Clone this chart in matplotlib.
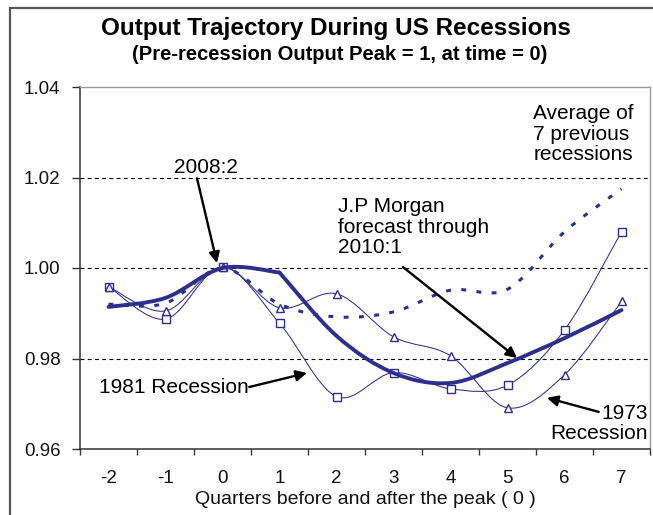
import matplotlib
matplotlib.use("Agg")
import matplotlib.pyplot as plt
from matplotlib.path import Path
from matplotlib.patches import PathPatch, Rectangle
import numpy as np

plt.rcParams['font.family'] = ['Liberation Sans', 'DejaVu Sans']

quarters = [-2, -1, 0, 1, 2, 3, 4, 5, 6, 7]
# 2008 recession: actual data through quarter 1, J.P. Morgan forecast after
actual_q = [-2, -1, 0, 1]
actual_2008 = [0.9914, 0.9934, 1.000, 0.999]
forecast_q = [1, 2, 3, 4, 5, 6, 7]
forecast_2008 = [0.999, 0.985, 0.9768, 0.9746, 0.979, 0.9845, 0.9907]
average7 = [0.992, 0.9922, 1.000, 0.992, 0.9892, 0.9903, 0.9951, 0.9953, 1.008, 1.0175]
rec1981 = [0.9959, 0.9887, 1.0002, 0.9878, 0.9716, 0.9769, 0.9733, 0.9741, 0.9863, 1.008]
rec1973 = [0.9959, 0.9905, 1.0002, 0.9912, 0.9943, 0.9848, 0.9806, 0.9691, 0.9764, 0.9926]
yticks = [0.96, 0.98, 1.00, 1.02, 1.04]
ytick_labels = ["0.96", "0.98", "1.00", "1.02", "1.04"]

NAVY = "#2e2e8f"


def smooth_path(xs, ys):
    pts = np.column_stack([xs, ys]).astype(float)
    n = len(pts)
    verts = [pts[0]]
    codes = [Path.MOVETO]
    for i in range(n - 1):
        p0 = pts[i - 1] if i > 0 else pts[i]
        p1 = pts[i]
        p2 = pts[i + 1]
        p3 = pts[i + 2] if i + 2 < n else pts[i + 1]
        c1 = p1 + (p2 - p0) / 6.0
        c2 = p2 - (p3 - p1) / 6.0
        verts += [c1, c2, p2]
        codes += [Path.CURVE4] * 3
    return Path(verts, codes)


fig = plt.figure(figsize=(6.53, 5.15), dpi=100)
ax = fig.add_axes([80 / 653, 1 - 449 / 515, 570 / 653, 362 / 515])

# outer chart frame (cropped at right and bottom in the original)
fig.patches.append(Rectangle((9.5 / 653, -0.05), 1.1, 1 - 8 / 515 + 0.05, transform=fig.transFigure,
                             fill=False, edgecolor="#555555", linewidth=1.6, zorder=0))

ax.set_xlim(-2.5, 7.5)
ax.set_ylim(0.96, 1.04)

for g in [0.98, 1.00, 1.02]:
    ax.axhline(g, color="black", linewidth=0.8, linestyle=(0, (3.5, 3)), zorder=1)

# thin series
for data, mk in [(rec1981, 's'), (rec1973, '^')]:
    ax.add_patch(PathPatch(smooth_path(quarters, data), fill=False, edgecolor=NAVY,
                           linewidth=0.75, zorder=3))
    ax.plot(quarters, data, linestyle='none', marker=mk, markersize=6.2,
            markerfacecolor='white', markeredgecolor=NAVY, markeredgewidth=1.0, zorder=4)

# average of 7 previous recessions (dashed)
ax.add_patch(PathPatch(smooth_path(quarters, average7), fill=False, edgecolor=NAVY,
                       linewidth=2.2, linestyle=(0, (1.6, 3.4)), zorder=3))
# 2008 recession: actual + J.P. Morgan forecast (thick)
for qx, qy in [(actual_q, actual_2008), (forecast_q, forecast_2008)]:
    ax.add_patch(PathPatch(smooth_path(qx, qy), fill=False, edgecolor=NAVY,
                           linewidth=2.8, capstyle='round', zorder=5))

# axes styling
ax.set_yticks(yticks)
ax.set_yticklabels(ytick_labels)
ax.set_xticks(np.arange(-2.5, 8.0, 1.0))
ax.set_xticklabels([])
ax.set_xticks(quarters, minor=True)
ax.set_xticklabels([str(q) for q in quarters], minor=True)
ax.tick_params(axis='x', which='minor', length=0, pad=15, labelsize=13.5)
ax.tick_params(axis='x', which='major', length=4, width=1, color="#333333", direction='out')
ax.tick_params(axis='y', length=6, width=1, color="#333333", direction='out', labelsize=13.5, pad=8)
for lab in ax.get_xticklabels(minor=True) + ax.get_yticklabels():
    lab.set_color("#111111")
for s in ['left', 'bottom']:
    ax.spines[s].set_color("#333333")
    ax.spines[s].set_linewidth(1.1)
for s in ['top', 'right']:
    ax.spines[s].set_color("#999999")
    ax.spines[s].set_linewidth(1.0)

ax.set_xlabel("Quarters before and after the peak ( 0 )", fontsize=14, labelpad=3, color="#111111")

fig.text(0.515, 1 - 29 / 515, "Output Trajectory During US Recessions", ha='center', va='center',
         fontsize=17.5, fontweight='bold')
fig.text(0.52, 1 - 54 / 515, "(Pre-recession Output Peak = 1, at time = 0)", ha='center', va='center',
         fontsize=14.5, fontweight='bold')

arrow = dict(arrowstyle='-|>', color='black', linewidth=1.7, mutation_scale=16,
             shrinkA=0, shrinkB=0)
FS = 15
ax.text(-0.29, 1.0223, "2008:2", ha='center', va='center', fontsize=FS)
ax.annotate("", xy=(-0.096, 1.0011), xytext=(-0.447, 1.0198), arrowprops=dict(arrow), zorder=6)

ax.text(2.03, 1.009, "J.P Morgan\nforecast through\n2010:1", ha='left', va='center',
        fontsize=FS, linespacing=1.1)
ax.annotate("", xy=(5.167, 0.9801), xytext=(3.167, 1.0002), arrowprops=dict(arrow), zorder=6)

ax.text(5.45, 1.0296, "Average of\n7 previous\nrecessions", ha='left', va='center',
        fontsize=FS, linespacing=1.1)

ax.text(0.46, 0.9737, "1981 Recession", ha='right', va='center', fontsize=FS)
ax.annotate("", xy=(1.482, 0.9768), xytext=(0.47, 0.9737), arrowprops=dict(arrow), zorder=6)

ax.text(7.465, 0.9657, "1973\nRecession", ha='right', va='center', fontsize=FS, linespacing=1.05)
ax.annotate("", xy=(5.693, 0.9713), xytext=(6.6, 0.9682), arrowprops=dict(arrow), zorder=6)

fig.savefig("out.png", dpi=100)
